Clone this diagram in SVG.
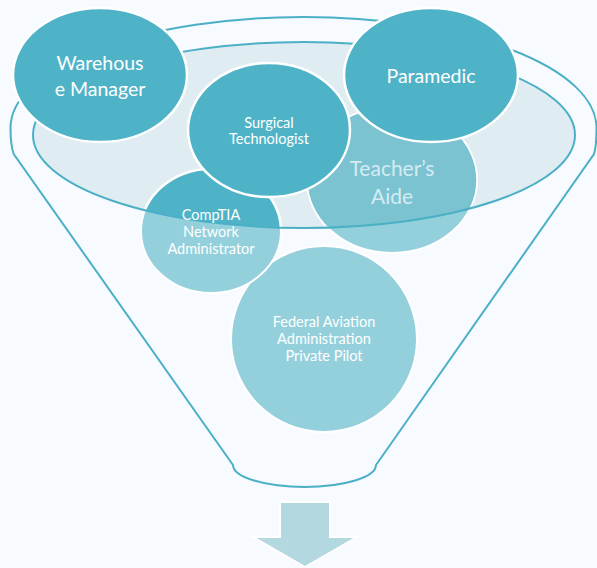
<svg xmlns="http://www.w3.org/2000/svg" width="597" height="568" viewBox="0 0 597 568">
  <style>
    .outline { fill: none; stroke: #4bb0c6; stroke-width: 2; }
    .dark { fill: #4fb3c8; stroke: #ffffff; stroke-width: 2.5; }
    .mid { fill: #7cc3d1; stroke: #ffffff; stroke-width: 1.5; }
    .light { fill: #94d0dc; stroke: #ffffff; stroke-width: 2; }
    .lbl { font-family: Lato, "Open Sans", "Liberation Sans", sans-serif; fill: #ffffff; text-anchor: middle; }
    .big { font-size: 19.5px; }
    .small { font-size: 14.5px; }
    .soft { fill: #d4ecf2; font-size: 21px; }
  </style>
  <defs>
    <clipPath id="bowl">
      <ellipse cx="304" cy="135" rx="271" ry="93"/>
    </clipPath>
  </defs>

  <rect width="597" height="568" fill="#f7faff"/>

  <!-- funnel body -->
  <g id="funnel">
    <path class="outline" d="M 10.5,128 A 293 111 0 0 1 596.5,128 C 596.5,140 596,148 594,154 L 376,465 A 71.5 22 0 0 1 233,465 L 13.7,154 C 11.5,148 10.5,140 10.5,128 Z"/>
    <ellipse cx="304" cy="135" rx="271" ry="93" fill="#dfedf3"/>
  </g>

  <g id="node-faa">
    <circle class="light" cx="324" cy="339" r="93"/>
    <text class="lbl small" x="324" y="327">Federal Aviation</text>
    <text class="lbl small" x="324" y="344">Administration</text>
    <text class="lbl small" x="324" y="361">Private Pilot</text>
  </g>

  <g id="node-teachers-aide">
    <ellipse class="light" cx="392" cy="180" rx="85" ry="73"/>
    <ellipse class="mid" cx="392" cy="180" rx="85" ry="73" clip-path="url(#bowl)"/>
  </g>

  <g id="node-comptia">
    <ellipse class="light" cx="211" cy="231" rx="70" ry="62"/>
    <ellipse class="dark" cx="211" cy="231" rx="70" ry="62" clip-path="url(#bowl)"/>
  </g>

  <!-- rim of the funnel mouth -->
  <ellipse id="rim" class="outline" cx="304" cy="135" rx="271" ry="93"/>

  <g id="labels-inside">
    <text class="lbl soft" x="392" y="176">Teacher’s</text>
    <text class="lbl soft" x="392" y="204">Aide</text>
    <text class="lbl small" x="211" y="219.5">CompTIA</text>
    <text class="lbl small" x="211" y="236.5">Network</text>
    <text class="lbl small" x="211" y="253.5">Administrator</text>
  </g>

  <g id="node-surgical">
    <ellipse class="dark" cx="269" cy="130" rx="81" ry="67"/>
    <text class="lbl small" x="269" y="128">Surgical</text>
    <text class="lbl small" x="269" y="144">Technologist</text>
  </g>

  <g id="node-warehouse">
    <ellipse class="dark" cx="100" cy="75" rx="87" ry="67"/>
    <text class="lbl big" x="100" y="70">Warehous</text>
    <text class="lbl big" x="100" y="96">e Manager</text>
  </g>

  <g id="node-paramedic">
    <ellipse class="dark" cx="431" cy="75" rx="87" ry="67"/>
    <text class="lbl big" x="431" y="83">Paramedic</text>
  </g>

  <g id="connectors">
    <path d="M 280,502 L 330,502 L 330,537 L 357,537 L 305,567 L 253,537 L 280,537 Z" fill="#b3d8e0" stroke="#ffffff" stroke-width="2"/>
  </g>
</svg>
